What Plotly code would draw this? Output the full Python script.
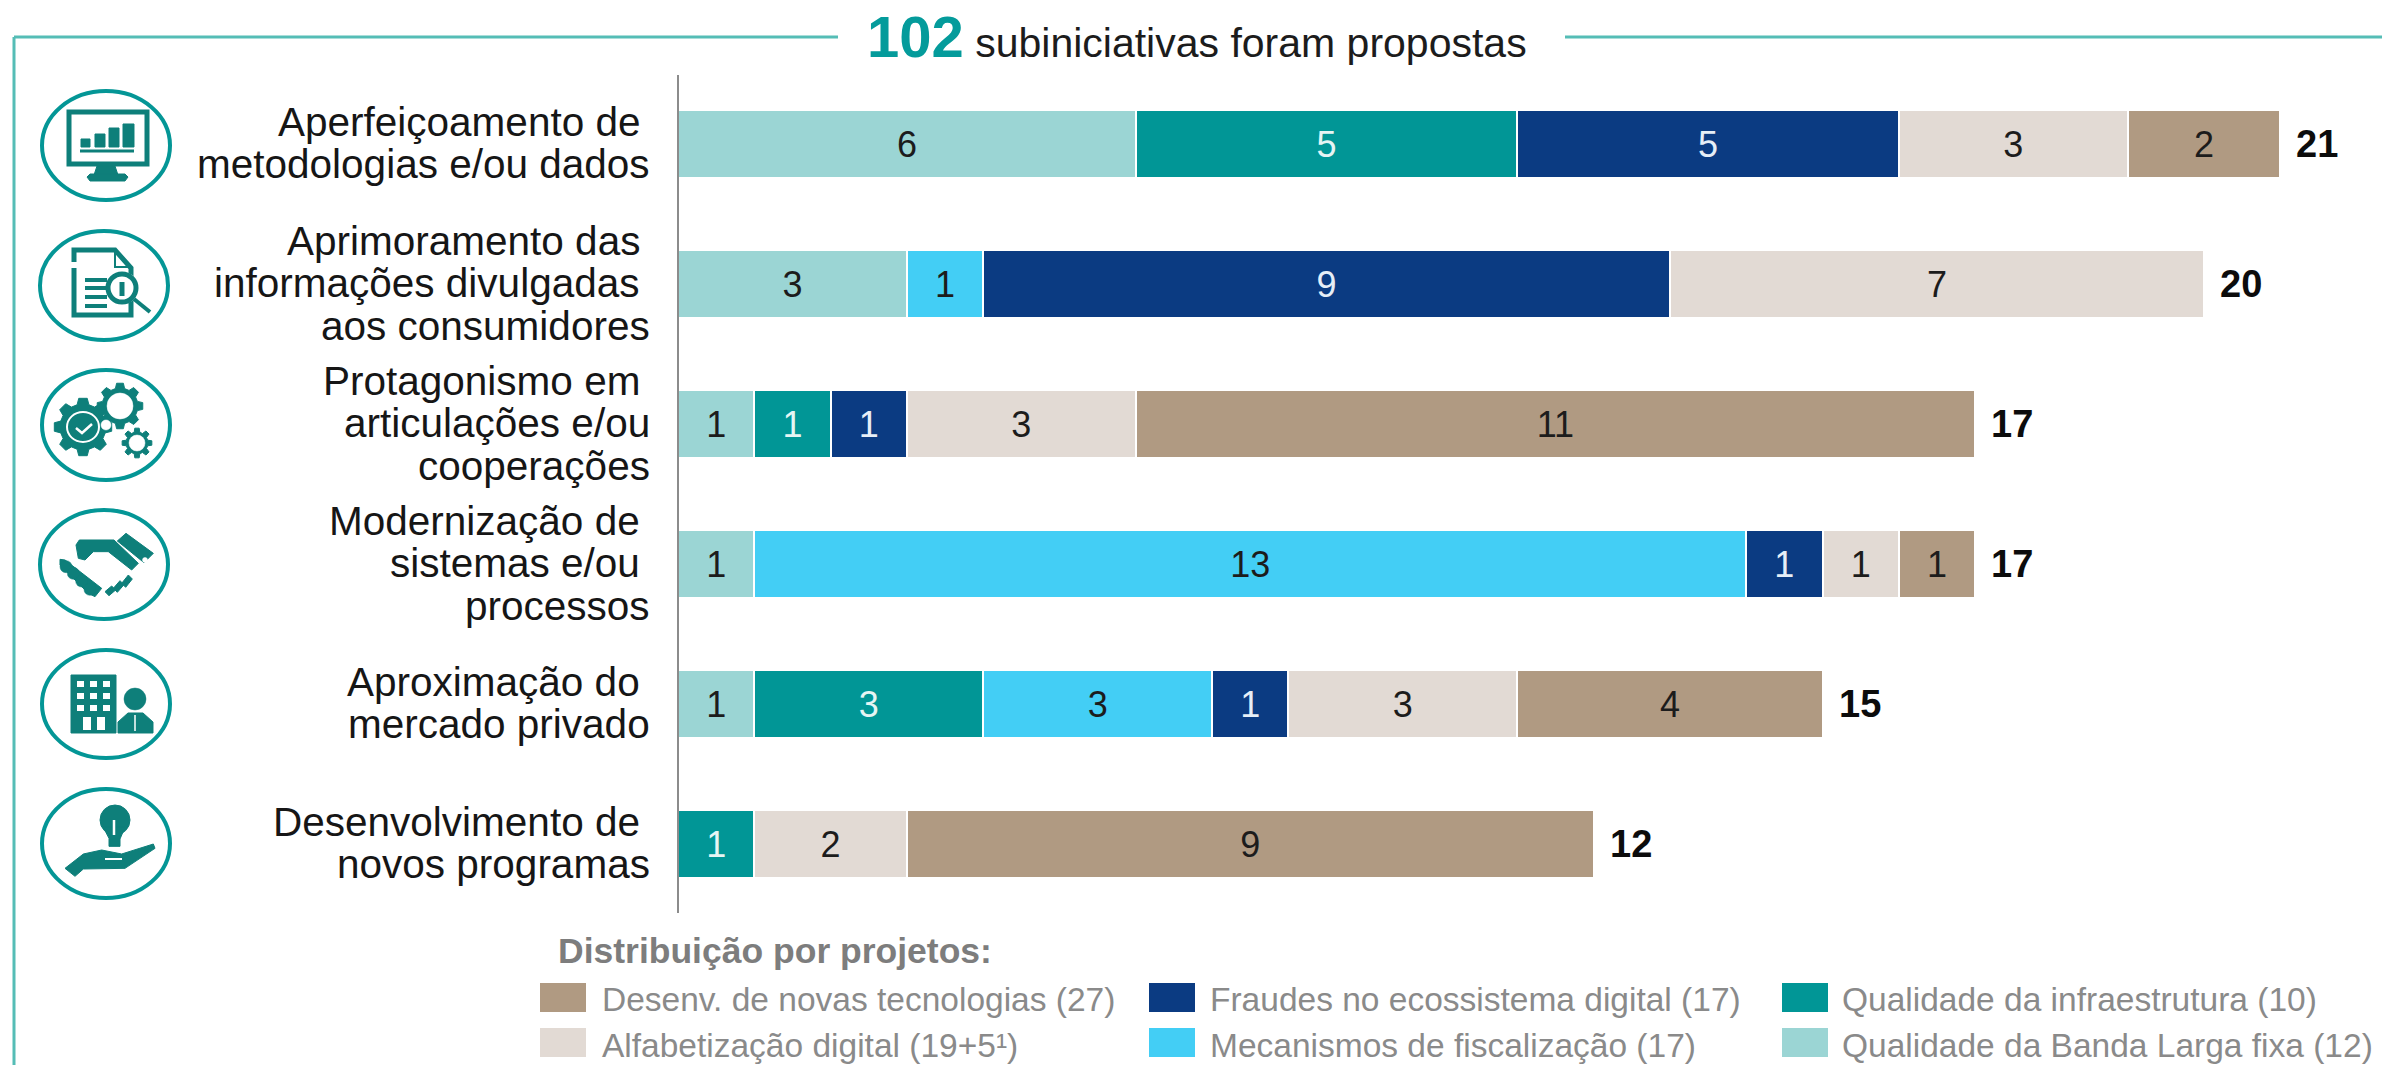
import math
import plotly.graph_objects as go

W, H = 2382, 1065
AXIS_X, UNIT = 678, 76.3
PLOT_TOP, PLOT_BOTTOM = 74, 914

categories = [
    "Aperfeiçoamento de metodologias e/ou dados",
    "Aprimoramento das informações divulgadas aos consumidores",
    "Protagonismo em articulações e/ou cooperações",
    "Modernização de sistemas e/ou processos",
    "Aproximação do mercado privado",
    "Desenvolvimento de novos programas",
]
category_lines = [
    ["Aperfeiçoamento de ", "metodologias e/ou dados"],
    ["Aprimoramento das ", "informações divulgadas ", "aos consumidores"],
    ["Protagonismo em ", "articulações e/ou", "cooperações"],
    ["Modernização de ", "sistemas e/ou ", "processos"],
    ["Aproximação do ", "mercado privado"],
    ["Desenvolvimento de ", "novos programas"],
]

banda = [6, 3, 1, 1, 1, None]
infra = [5, None, 1, None, 3, 1]
mecanismos = [None, 1, None, 13, 3, None]
fraudes = [5, 9, 1, 1, 1, None]
alfabetizacao = [3, 7, 3, 1, 3, 2]
desenv = [2, None, 11, 1, 4, 9]
totals = [21, 20, 17, 17, 15, 12]

series = [
    ("Qualidade da Banda Larga fixa (12)", banda, "#9BD5D4", "#1c1c1c"),
    ("Qualidade da infraestrutura (10)", infra, "#019696", "#E6F5F4"),
    ("Mecanismos de fiscalização (17)", mecanismos, "#43CEF5", "#1c1c1c"),
    ("Fraudes no ecossistema digital (17)", fraudes, "#0B3B82", "#E6EEF7"),
    ("Alfabetização digital (19+5¹)", alfabetizacao, "#E2DAD4", "#1c1c1c"),
    ("Desenv. de novas tecnologias (27)", desenv, "#B09A82", "#1c1c1c"),
]

legend_rows = [
    [("Desenv. de novas tecnologias (27)", "#B09A82", 540, 600),
     ("Fraudes no ecossistema digital (17)", "#0B3B82", 1149, 1208),
     ("Qualidade da infraestrutura (10)", "#019696", 1782, 1840)],
    [("Alfabetização digital (19+5¹)", "#E2DAD4", 540, 600),
     ("Mecanismos de fiscalização (17)", "#43CEF5", 1149, 1208),
     ("Qualidade da Banda Larga fixa (12)", "#9BD5D4", 1782, 1840)],
]

FONT = "Liberation Sans, Arial, sans-serif"
TEAL = "#049696"
DARK_TEAL = "#0E7F7A"
BORDER = "#55BDB6"
WHITE = "#FFFFFF"


def px(x):
    return (x - AXIS_X) / (W - AXIS_X)


def py(y):
    return (PLOT_BOTTOM - y) / (PLOT_BOTTOM - PLOT_TOP)


fig = go.Figure()
for name, values, color, text_color in series:
    fig.add_trace(go.Bar(
        name=name, y=categories, x=values, orientation="h",
        marker=dict(color=color, line=dict(color=WHITE, width=2)),
        text=values, texttemplate="%{text}", textposition="inside",
        insidetextanchor="middle", textangle=0, constraintext="none",
        textfont=dict(family=FONT, size=36, color=text_color),
        showlegend=False, hoverinfo="x+y+name",
    ))

annotations = []
LINE = 42.5
for cat, lines in zip(categories, category_lines):
    n = len(lines)
    for i, line_text in enumerate(lines):
        annotations.append(dict(
            x=0, y=cat, xref="x", yref="y", text=line_text.strip(), showarrow=False,
            xanchor="right", yanchor="middle",
            xshift=-(26 + (10 if line_text.endswith(" ") else 0)),
            yshift=-((i - (n - 1) / 2) * LINE) + 1,
            font=dict(family=FONT, size=40.5, color="#161616"),
        ))
for cat, total in zip(categories, totals):
    annotations.append(dict(
        x=total, y=cat, xref="x", yref="y", text=f"<b>{total}</b>", showarrow=False,
        xanchor="left", yanchor="middle", xshift=14,
        font=dict(family=FONT, size=38, color="#0c0c0c"),
    ))

shapes = []


def rect(x0, y0, x1, y1, color):
    shapes.append(dict(type="rect", xref="paper", yref="paper", x0=px(x0), x1=px(x1),
                       y0=py(y0), y1=py(y1), fillcolor=color, line=dict(width=0), layer="above"))


def line(x0, y0, x1, y1, color=BORDER, width=3):
    shapes.append(dict(type="line", xref="paper", yref="paper", x0=px(x0), x1=px(x1),
                       y0=py(y0), y1=py(y1), line=dict(color=color, width=width)))


def oval(x0, y0, x1, y1, color=TEAL, width=4, fill=None):
    shapes.append(dict(type="circle", xref="paper", yref="paper", x0=px(x0), x1=px(x1),
                       y0=py(y0), y1=py(y1), line=dict(color=color, width=width),
                       fillcolor=fill or "rgba(0,0,0,0)"))


def disc(cx, cy, r, color=DARK_TEAL):
    oval(cx - r, cy - r, cx + r, cy + r, color, 0.5, color)


def poly(points, color=DARK_TEAL, fill=True, width=1):
    path = "M " + " L ".join(f"{px(x):.5f},{py(y):.5f}" for x, y in points)
    if fill:
        path += " Z"
    shapes.append(dict(type="path", xref="paper", yref="paper", path=path,
                       line=dict(color=color, width=width),
                       fillcolor=color if fill else "rgba(0,0,0,0)"))


def crop(y0, points):
    return [(40 + a / 3, y0 + b / 3) for a, b in points]


def gear(cx, cy, outer, root, teeth, color=DARK_TEAL):
    pts = []
    step = 2 * math.pi / teeth
    for k in range(teeth):
        t = k * step
        for off, r in [(-0.30, root), (-0.17, outer), (0.17, outer), (0.30, root)]:
            a = t + off * step * 1.1
            pts.append((cx + r * math.cos(a), cy + r * math.sin(a)))
    poly(pts, color)


# Frame with the gap for the heading
line(14, 37, 14, 1065)
line(14, 37, 838, 37)
line(1565, 37, 2382, 37)
# Vertical axis
line(678, 75, 678, 913, color="#8c8c8c", width=2)

# Legend
annotations.append(dict(
    xref="paper", yref="paper", x=px(556), y=py(951), text="<b>Distribuição por projetos:</b>",
    showarrow=False, xanchor="left", yanchor="middle",
    font=dict(family=FONT, size=35.5, color="#7d7d7d"),
))
for row_y, text_y, row in zip([998, 1043], [999, 1045], legend_rows):
    for label, color, sx, tx in row:
        rect(sx, row_y - 15, sx + 46, row_y + 14, color)
        annotations.append(dict(
            xref="paper", yref="paper", x=px(tx), y=py(text_y), text=label, showarrow=False,
            xanchor="left", yanchor="middle",
            font=dict(family=FONT, size=33.5, color="#8a8a8a"),
        ))

# Icon rings
rings = [(42, 91, 170, 200), (40, 231, 168, 340), (42, 370, 170, 480),
         (40, 510, 168, 619), (42, 650, 170, 758), (42, 789, 170, 898)]
for r in rings:
    oval(*r)

# Icon 1: monitor with bars
shapes.append(dict(type="rect", xref="paper", yref="paper", x0=px(69), x1=px(147), y0=py(112), y1=py(164),
                   line=dict(color=DARK_TEAL, width=5), fillcolor="rgba(0,0,0,0)"))
poly([(97, 166), (115, 166), (118, 175), (94, 175)])
poly([(90, 174), (125, 174), (128, 177), (125, 181), (90, 181), (87, 177)])
for bx0, bx1, top in [(81, 90, 139), (95, 105, 134), (109, 119, 128), (123, 134, 124)]:
    poly([(bx0, top), (bx1, top), (bx1, 147), (bx0, 147)])
line(80, 151, 134, 151, DARK_TEAL, 3)

# Icon 2: document with magnifier
poly([(74, 262), (74, 250), (115, 250), (131, 268), (131, 315), (74, 315), (74, 268)], fill=False, width=5)
poly([(115, 250), (115, 267), (131, 267)], fill=False, width=2)
oval(105, 273, 140, 303, WHITE, 1, WHITE)
for ly in [280, 288, 297, 306]:
    line(85, ly, 107, ly, DARK_TEAL, 4)
oval(108, 274, 136, 302, DARK_TEAL, 5, WHITE)
line(122, 282, 122, 296, DARK_TEAL, 5)
line(134, 299, 150, 312, DARK_TEAL, 4)

# Icon 3: gears
gear(83, 427, 29, 23, 8)
oval(67, 412, 99, 442, WHITE, 2, DARK_TEAL)
poly([(76, 428), (82, 433), (92, 424)], WHITE, fill=False, width=2.5)
gear(120, 406, 23, 18, 8)
disc(120, 406, 13, WHITE)
gear(137, 443, 15, 11, 8)
disc(137, 443, 8, WHITE)
disc(106, 425, 5, WHITE)

# Icon 4: handshake
poly(crop(510, [(108, 105), (118, 90), (222, 90), (295, 160), (275, 180), (205, 125),
                (160, 125), (135, 150), (115, 145)]))
poly(crop(510, [(232, 93), (258, 70), (340, 130), (312, 158)]))
disc(145, 560, 2.5, WHITE)
poly(crop(510, [(60, 148), (75, 150), (185, 235), (165, 260), (145, 250), (60, 165)]))
for a, b in [(78, 170), (100, 190), (125, 213), (150, 238)]:
    disc(40 + a / 3, 510 + b / 3, 6)
for a0, b0, a1, b1 in [(195, 245, 215, 228), (220, 235, 240, 212), (245, 220, 265, 195)]:
    poly(crop(510, [(a0, b0), (a1, b1), (a1 + 12, b1 + 12), (a0 + 12, b0 + 12)]))

# Icon 5: building and person
poly([(71, 675), (116, 675), (116, 733), (71, 733)])
for wy in [681, 693, 705]:
    for wx in [77, 90, 103]:
        rect(wx, wy, wx + 7, wy + 6, WHITE)
for wx in [83, 97]:
    rect(wx, 717, wx + 8, 730, WHITE)
disc(135, 699, 11)
poly([(118, 733), (118, 722), (128, 713), (143, 713), (153, 722), (153, 733)])
line(135, 715, 135, 731, WHITE, 1.5)

# Icon 6: hand and bulb
oval(100, 805, 130, 835, DARK_TEAL, 1, DARK_TEAL)
poly(crop(789, [(190, 115), (255, 115), (240, 150), (208, 150)]))
poly(crop(789, [(207, 150), (240, 150), (240, 172), (207, 172)]))
line(114, 820, 114, 835, WHITE, 2.5)
poly(crop(789, [(75, 238), (130, 195), (185, 183), (245, 195), (340, 165), (345, 178),
                (255, 238), (130, 240), (105, 262)]))
line(105, 859, 122, 859, WHITE, 2)

fig.update_layout(
    width=W, height=H, autosize=False,
    margin=dict(l=AXIS_X, r=0, t=PLOT_TOP, b=H - PLOT_BOTTOM, pad=0),
    paper_bgcolor=WHITE, plot_bgcolor=WHITE,
    barmode="stack", bargap=0.51,
    showlegend=False,
    title=dict(
        text='<span style="font-size:58px;color:#049B9B"><b>102</b></span>'
             '<span style="font-size:41px"> subiniciativas foram propostas</span>',
        x=867 / W, xanchor="left", xref="container", y=1 - 43 / H, yanchor="middle",
        yref="container", font=dict(family=FONT, size=41, color="#1c1c1c"),
    ),
    xaxis=dict(range=[0, (W - AXIS_X) / UNIT], visible=False, fixedrange=True),
    yaxis=dict(autorange="reversed", type="category", categoryorder="array",
               categoryarray=categories, showticklabels=False, showline=False,
               showgrid=False, zeroline=False, ticks="", fixedrange=True),
    annotations=annotations, shapes=shapes,
    font=dict(family=FONT),
)

fig.write_html("out.html", config={"displayModeBar": False},
               post_script="document.body.style.margin='0';document.body.style.overflow='hidden';")
